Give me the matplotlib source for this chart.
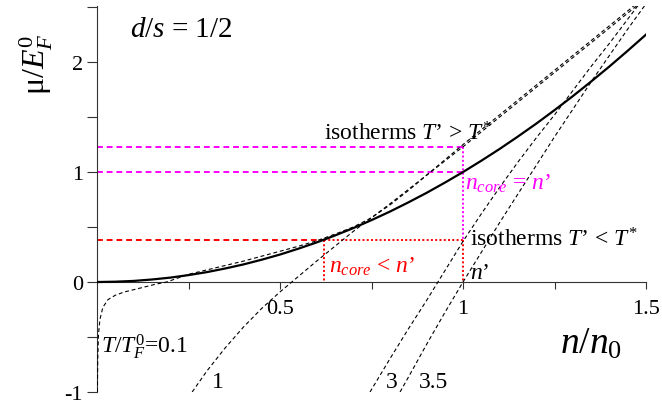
import matplotlib
matplotlib.use("Agg")
import matplotlib.pyplot as plt

plt.rcParams['font.family'] = ['Liberation Serif', 'DejaVu Serif']
plt.rcParams['mathtext.fontset'] = 'custom'
plt.rcParams['mathtext.rm'] = 'Liberation Serif'
plt.rcParams['mathtext.it'] = 'Liberation Serif:italic'
plt.rcParams['mathtext.bf'] = 'Liberation Serif:bold'

# ---- data ----
n_core = [0.00, 0.05, 0.10, 0.15, 0.20, 0.25, 0.30, 0.35, 0.40, 0.45, 0.50,
          0.55, 0.60, 0.65, 0.70, 0.75, 0.80, 0.85, 0.90, 0.95, 1.00,
          1.05, 1.10, 1.15, 1.20, 1.25, 1.30, 1.35, 1.40, 1.45, 1.50]
mu_core = [0.000, 0.003, 0.010, 0.023, 0.040, 0.063, 0.090, 0.123, 0.160, 0.203, 0.250,
           0.303, 0.360, 0.423, 0.490, 0.563, 0.640, 0.723, 0.810, 0.903, 1.000,
           1.103, 1.210, 1.323, 1.440, 1.563, 1.690, 1.823, 1.960, 2.103, 2.250]

n_T01 = [0.001, 0.002, 0.004, 0.008, 0.016, 0.03, 0.05, 0.075, 0.10, 0.13, 0.16, 0.19,
         0.25, 0.30, 0.35, 0.40, 0.45, 0.50, 0.55, 0.60, 0.65, 0.70, 0.75, 0.80,
         0.85, 0.90, 0.95, 1.00, 1.10, 1.20, 1.30, 1.40, 1.50]
mu_T01 = [-1.00, -0.70, -0.48, -0.34, -0.23, -0.16, -0.12, -0.09, -0.07, -0.045, -0.02, 0.00,
          0.07, 0.11, 0.15, 0.19, 0.235, 0.28, 0.325, 0.375, 0.435, 0.50, 0.585, 0.70,
          0.83, 0.97, 1.11, 1.25, 1.52, 1.79, 2.06, 2.33, 2.60]

n_T1 = [0.26, 0.30, 0.35, 0.40, 0.45, 0.50, 0.55, 0.60, 0.70, 0.80, 0.90,
        1.00, 1.10, 1.20, 1.30, 1.40, 1.50]
mu_T1 = [-1.00, -0.81, -0.60, -0.41, -0.24, -0.09, 0.05, 0.19, 0.46, 0.71, 0.97,
         1.23, 1.50, 1.77, 2.04, 2.31, 2.58]

n_T3 = [0.746, 0.80, 0.85, 0.90, 0.95, 1.00, 1.05, 1.10, 1.15, 1.20, 1.25,
        1.30, 1.35, 1.40, 1.45, 1.50]
mu_T3 = [-1.00, -0.70, -0.43, -0.17, 0.10, 0.37, 0.62, 0.86, 1.09, 1.31, 1.52,
         1.74, 1.96, 2.17, 2.39, 2.61]

n_T35 = [0.828, 0.85, 0.90, 0.95, 1.00, 1.05, 1.10, 1.15, 1.20, 1.25, 1.30,
         1.35, 1.40, 1.45, 1.50]
mu_T35 = [-1.00, -0.87, -0.57, -0.28, 0.00, 0.27, 0.54, 0.80, 1.06, 1.32, 1.57,
          1.82, 2.06, 2.30, 2.53]

n_prime = 1.0
mu_above = 1.23     # isotherm T' > T* at n'
mu_equal = 1.00     # n_core = n'
mu_below = 0.38     # isotherm T' < T* at n'
n_core_below = 0.62

xticks_major = [0.5, 1.0, 1.5]
xtick_labels = ['0.5', '1', '1.5']
xticks_minor = [0.25, 0.75, 1.25]
yticks_major = [-1, 0, 1, 2]
ytick_labels = ['-1', '0', '1', '2']
yticks_minor = [-0.5, 0.5, 1.5, 2.5]

# ---- figure ----
fig = plt.figure(figsize=(6.62, 4.02), dpi=100)
ax = fig.add_axes([97/662, 9/402, 549/662, 386/402])
ax.set_xlim(0, 1.5)
ax.set_ylim(-1, 2.51)

MAG = '#ff00ff'
RED = '#ff0000'

# guide lines
ax.plot([0, n_prime], [mu_above, mu_above], color=MAG, lw=1.4, dashes=(3, 2), zorder=2)
ax.plot([0, n_prime], [mu_equal, mu_equal], color=MAG, lw=1.4, dashes=(3, 2), zorder=2)
ax.plot([n_prime, n_prime], [mu_above, mu_below], color=MAG, lw=1.4, dashes=(1, 1.2), zorder=2)
ax.plot([0, n_core_below], [mu_below, mu_below], color=RED, lw=1.4, dashes=(3, 2), zorder=2)
ax.plot([n_core_below, n_prime], [mu_below, mu_below], color=RED, lw=1.4, dashes=(1, 1.2), zorder=2)
ax.plot([n_core_below, n_core_below], [mu_below, 0], color=RED, lw=1.4, dashes=(1, 1.2), zorder=2)
ax.plot([n_prime, n_prime], [mu_below, 0], color=RED, lw=1.4, dashes=(1, 1.2), zorder=2)

# isotherms
for xs, ys in [(n_T01, mu_T01), (n_T1, mu_T1), (n_T3, mu_T3), (n_T35, mu_T35)]:
    ax.plot(xs, ys, color='black', lw=0.8, dashes=(3.5, 2.5), zorder=3)

# core curve
ax.plot(n_core, mu_core, color='black', lw=1.6, zorder=4)

# axes styling
for s in ['top', 'right']:
    ax.spines[s].set_visible(False)
ax.spines['bottom'].set_position(('data', 0))
ax.spines['left'].set_color('#333333')
ax.spines['bottom'].set_color('#333333')
ax.set_xticks(xticks_major)
ax.set_xticklabels(xtick_labels)
ax.set_xticks(xticks_minor, minor=True)
ax.set_yticks(yticks_major)
ax.set_yticklabels(ytick_labels)
ax.set_yticks(yticks_minor, minor=True)
ax.tick_params(axis='x', which='both', direction='out', length=5, width=0.8,
               labelsize=16, pad=7, color='#333333')
ax.tick_params(axis='y', which='both', direction='out', length=7, width=0.8,
               labelsize=16, pad=3, color='#333333')

# axis labels
fig.text(36/662, 1 - 64/402, r'μ/$E_F^0$', rotation=90, fontsize=23,
         ha='center', va='center')
ax.text(1.35, -0.56, r'$n/n_0$', fontsize=27, ha='center', va='center')

# annotations
ax.text(0.09, 2.30, r'$d/s$ = 1/2', fontsize=21, ha='left', va='center')
ax.text(0.62, 1.36, r'isotherms $T$’ > $T^{*}$', fontsize=17, ha='left', va='center')
ax.text(1.005, 0.90, r'$n_{core}$ = $n$’', fontsize=17, color=MAG, ha='left', va='center')
ax.text(1.02, 0.39, r'isotherms $T$’ < $T^{*}$', fontsize=17, ha='left', va='center')
ax.text(0.635, 0.15, r'$n_{core}$ < $n$’', fontsize=17, color=RED, ha='left', va='center')
ax.text(1.02, 0.09, r'$n$’', fontsize=17, ha='left', va='center')
ax.text(0.01, -0.58, r'$T/T_F^0$=0.1', fontsize=17, ha='left', va='center')
ax.text(0.33, -0.90, '1', fontsize=17, ha='center', va='center')
ax.text(0.805, -0.90, '3', fontsize=17, ha='center', va='center')
ax.text(0.92, -0.90, '3.5', fontsize=17, ha='center', va='center')

fig.savefig('out.png', dpi=100)
